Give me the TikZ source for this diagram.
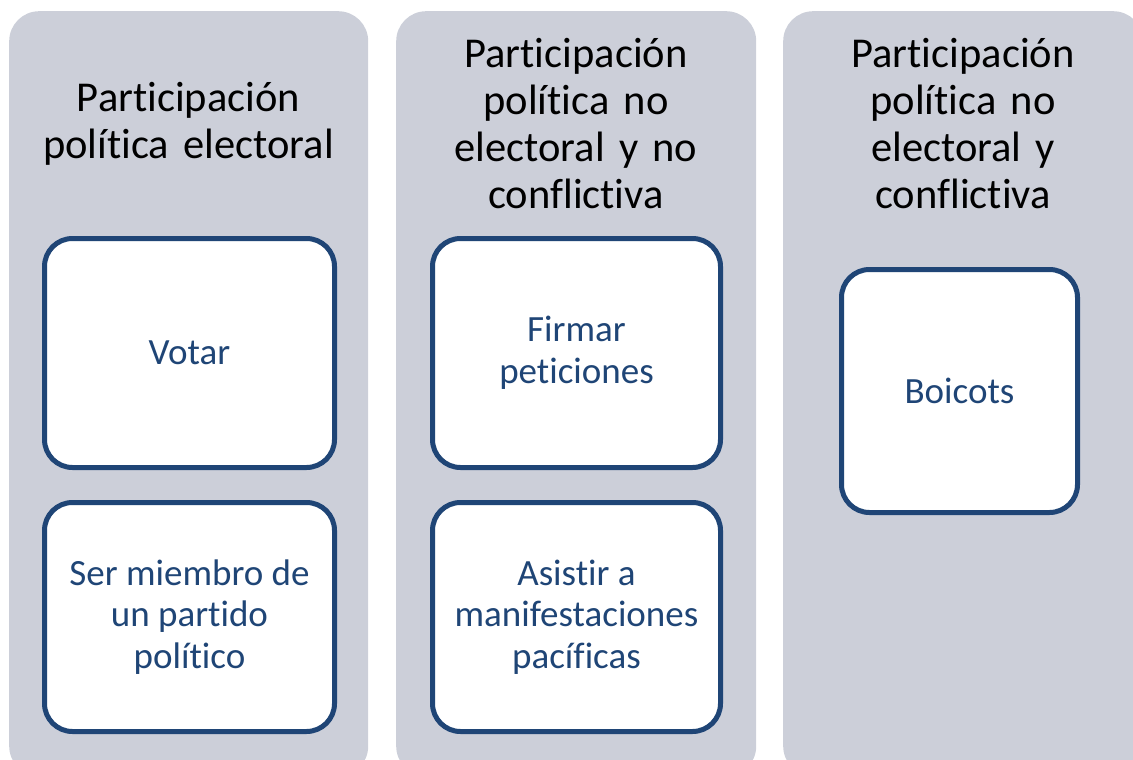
\documentclass[tikz,border=0pt]{standalone}
\usepackage{fontspec}
\setmainfont[Ligatures=NoCommon]{Carlito}
\definecolor{colgray}{HTML}{CCCFD9}
\definecolor{boxblue}{HTML}{1F4576}
\begin{document}
\begin{tikzpicture}[x=1pt,y=-1pt,
  column/.style={fill=colgray,draw=none,rounded corners=30pt,inner sep=0pt,anchor=north west},
  header/.style={text=black,align=center,text width=340pt,font=\fontsize{42.5}{47}\selectfont},
  item/.style={draw=boxblue,line width=5pt,fill=white,rounded corners=28pt,inner sep=0pt,anchor=north west},
  itemtext/.style={text=boxblue,align=center,font=\fontsize{37}{41.5}\selectfont}]
\useasboundingbox (0,0) rectangle (1133,760);
\begin{scope}
\clip (0,0) rectangle (1133,760);
\node[column,minimum width=359pt,minimum height=765pt] (c1) at (9,11) {};
\node[column,minimum width=360pt,minimum height=765pt] (c2) at (396,11) {};
\node[column,minimum width=360pt,minimum height=765pt] (c3) at (783,11) {};
\end{scope}
\node[header] (h1) at (188.5,124) {Participación\\política electoral};
\node[header] (h2) at (576,124) {Participación\\política no\\electoral y no\\conflictiva};
\node[header] (h3) at (963,124) {Participación\\política no\\electoral y\\conflictiva};
\node[item,minimum width=290pt,minimum height=229pt] (v) at (42,236) {};
\node[itemtext] at (v.center) {Votar};
\node[item,minimum width=290pt,minimum height=229pt] (s) at (42,500) {};
\node[itemtext] at (s.center) {Ser miembro de\\un partido\\político};
\node[item,minimum width=288pt,minimum height=229pt] (f) at (430,236) {};
\node[itemtext] at (f.center) {Firmar\\peticiones};
\node[item,minimum width=288pt,minimum height=229pt] (a) at (430,500) {};
\node[itemtext] at (a.center) {Asistir a\\manifestaciones\\pacíficas};
\node[item,minimum width=236pt,minimum height=243pt] (b) at (839,267) {};
\node[itemtext] at (b.center) {Boicots};
\end{tikzpicture}
\end{document}
